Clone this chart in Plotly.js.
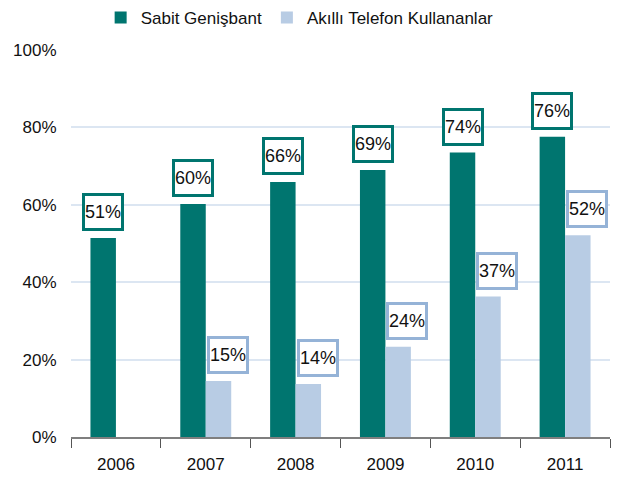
<!DOCTYPE html>
<html>
<head>
<meta charset="utf-8">
<script src="https://cdn.plot.ly/plotly-3.0.1.min.js"></script>
<style>
html,body{margin:0;padding:0;background:#fff;}
#chart{width:619px;height:478px;}
</style>
</head>
<body>
<div id="chart"></div>
<script>
var years = ['2006','2007','2008','2009','2010','2011'];
var broadband = [51.4, 60.2, 65.9, 69.0, 73.5, 77.6];
var smartphone = [null, 14.5, 13.7, 23.3, 36.3, 52.1];
var broadbandLabels = ['51%','60%','66%','69%','74%','76%'];
var smartphoneLabels = [null,'15%','14%','24%','37%','52%'];
var yTicks = [0,20,40,60,80,100];
var yTickText = ['0%','20%','40%','60%','80%','100%'];

var FONT = '"Liberation Sans", Arial, sans-serif';
var GREEN = '#00756f';
var BLUE = '#b8cce4';
var BLUE_BORDER = '#95b3d7';

var traces = [
  {type:'bar', name:'Sabit Genişbant', x:years, y:broadband,
   marker:{color:GREEN, line:{width:0}}, hoverinfo:'skip'},
  {type:'bar', name:'Akıllı Telefon Kullananlar', x:years, y:smartphone,
   marker:{color:BLUE, line:{width:0}}, hoverinfo:'skip'}
];

// annotations use the category index on the category axis
var annotations = [];
for (var i = 0; i < years.length; i++) {
  if (broadband[i] != null) {
    annotations.push({x:i, y:broadband[i], xref:'x', yref:'y', text:broadbandLabels[i],
      showarrow:false, xanchor:'center', yanchor:'bottom', xshift:-12.75, yshift:7,
      bgcolor:'#ffffff', bordercolor:GREEN, borderwidth:3, borderpad:0,
      width:36, height:32, font:{family:FONT, size:18, color:'#111'}});
  }
  if (smartphone[i] != null) {
    annotations.push({x:i, y:smartphone[i], xref:'x', yref:'y', text:smartphoneLabels[i],
      showarrow:false, xanchor:'center', yanchor:'bottom', xshift:22, yshift:7,
      bgcolor:'#ffffff', bordercolor:BLUE_BORDER, borderwidth:3, borderpad:0,
      width:36, height:32, font:{family:FONT, size:18, color:'#111'}});
  }
}

var layout = {
  width:619, height:478,
  margin:{l:71, r:9, t:50, b:41},
  paper_bgcolor:'#fff', plot_bgcolor:'#fff',
  barmode:'group', bargap:0.433, bargroupgap:0,
  font:{family:FONT, color:'#222'},
  showlegend:true,
  legend:{orientation:'h', xref:'paper', x:0.055, xanchor:'left', yref:'container', y:1, yanchor:'top',
    font:{family:FONT, size:17, color:'#111'},
    bgcolor:'rgba(0,0,0,0)', borderwidth:0, traceorder:'normal'},
  xaxis:{type:'category', categoryorder:'array', categoryarray:years,
    range:[-0.5, 5.5], autorange:false,
    showgrid:false, showline:true, linecolor:'#7f7f7f', linewidth:1.5,
    ticks:'outside', ticklen:9, tickcolor:'#555', tickwidth:1, tickson:'boundaries',
    ticklabelstandoff:11,
    tickfont:{family:FONT, size:17, color:'#111'}},
  yaxis:{range:[0,100], autorange:false, tickmode:'array', tickvals:yTicks, ticktext:yTickText,
    showgrid:true, gridcolor:'#dce6f2',
    gridwidth:1.5, zeroline:false, showline:false, ticks:'outside', ticklen:10, tickcolor:'rgba(0,0,0,0)',
    tickfont:{family:FONT, size:17, color:'#111'}},
  annotations:annotations
};

Plotly.newPlot('chart', traces, layout, {displayModeBar:false});
</script>
</body>
</html>
